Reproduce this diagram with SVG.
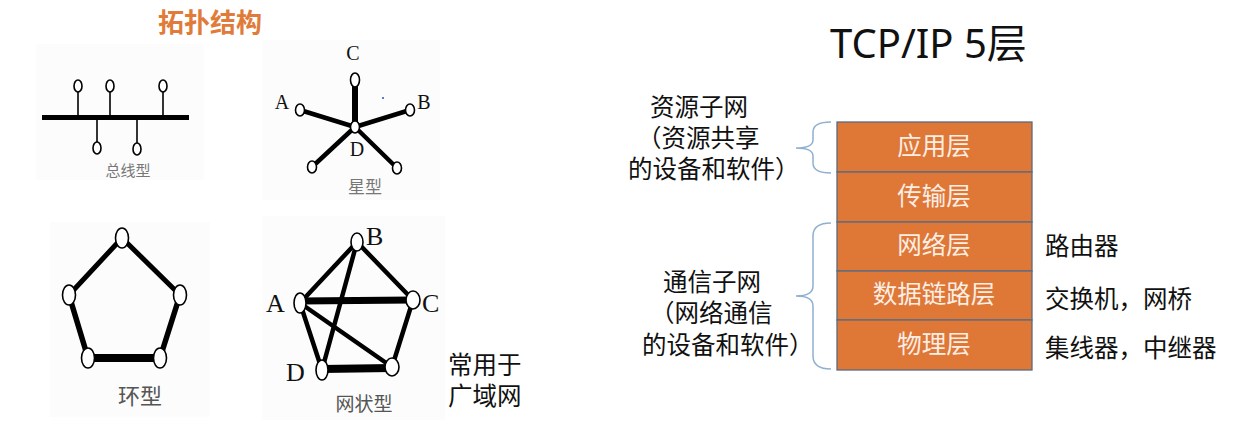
<svg xmlns="http://www.w3.org/2000/svg" width="1233" height="427" viewBox="0 0 1233 427">
<style>
.cn{font-family:"Liberation Sans","Noto Sans CJK SC",sans-serif;}
.t{font-size:24.5px;fill:#111;}
.lt{font-size:24.5px;fill:#fbeee4;text-anchor:middle;}
.lbl{font-family:"Liberation Serif","Noto Sans CJK SC",serif;font-size:20px;fill:#111;}
.cap{font-size:15px;fill:#777;text-anchor:middle;}
.node{fill:#fff;stroke:#000;stroke-width:1.6;}
.e{stroke:#000;stroke-linecap:round;fill:none;}
.layer{fill:#DF7737;stroke:#5b6b82;stroke-width:1.3;}
.brace{fill:none;stroke:#8fb0d2;stroke-width:1.5;}
.bg{fill:#fcfcfc;}
</style>
<rect width="1233" height="427" fill="#fff"/>

<text class="cn" x="158" y="32" style="font-size:26px;font-weight:bold;fill:#E07B39">拓扑结构</text>

<!-- Bus topology -->
<g id="bus">
<rect class="bg" x="36" y="44" width="168" height="136"/>
<rect x="42" y="115" width="147" height="5" fill="#000"/>
<g class="e" stroke-width="1.6">
<line x1="78" y1="92" x2="78" y2="115"/><line x1="110" y1="92" x2="110" y2="115"/><line x1="163" y1="92" x2="163" y2="115"/>
<line x1="97" y1="120" x2="97" y2="142"/><line x1="137" y1="120" x2="137" y2="143"/>
</g>
<ellipse class="node" cx="78" cy="86" rx="4" ry="6"/>
<ellipse class="node" cx="110" cy="86" rx="4" ry="6"/>
<ellipse class="node" cx="163" cy="86" rx="4" ry="6"/>
<ellipse class="node" cx="97" cy="148" rx="4" ry="6"/>
<ellipse class="node" cx="137" cy="149" rx="4" ry="6"/>
<text class="cn cap" x="128" y="176">总线型</text>
</g>

<!-- Star topology -->
<g id="star">
<rect class="bg" x="262" y="40" width="178" height="160"/>
<g class="e">
<line x1="355" y1="80" x2="355" y2="127" stroke-width="6"/>
<line x1="300" y1="110" x2="355" y2="127" stroke-width="4.5"/>
<line x1="410" y1="110" x2="355" y2="127" stroke-width="4.5"/>
<line x1="312" y1="167" x2="355" y2="127" stroke-width="4.5"/>
<line x1="397" y1="168" x2="355" y2="127" stroke-width="4.5"/>
</g>
<ellipse class="node" cx="355" cy="80" rx="4.5" ry="7"/>
<ellipse class="node" cx="355" cy="127" rx="4.5" ry="6"/>
<ellipse class="node" cx="300" cy="110" rx="4.5" ry="6"/>
<ellipse class="node" cx="410" cy="110" rx="4.5" ry="6"/>
<ellipse class="node" cx="312" cy="167" rx="4.5" ry="6"/>
<ellipse class="node" cx="397" cy="168" rx="4.5" ry="6"/>
<text class="lbl" x="353" y="60" text-anchor="middle">C</text>
<text class="lbl" x="282" y="109" text-anchor="middle">A</text>
<text class="lbl" x="424" y="109" text-anchor="middle">B</text>
<text class="lbl" x="357" y="156" text-anchor="middle">D</text>
<circle cx="383" cy="98" r="1" fill="#2a4bd0"/>
<text class="cn" x="365" y="193" style="font-size:17px;fill:#777;text-anchor:middle">星型</text>
</g>

<!-- Ring topology -->
<g id="ring">
<rect class="bg" x="50" y="222" width="160" height="195"/>
<g class="e">
<line x1="122" y1="238" x2="69" y2="295" stroke-width="5"/>
<line x1="122" y1="238" x2="180" y2="295" stroke-width="5"/>
<line x1="69" y1="295" x2="88" y2="358" stroke-width="5.5"/>
<line x1="180" y1="295" x2="160" y2="358" stroke-width="5.5"/>
<line x1="88" y1="358" x2="160" y2="358" stroke-width="8" stroke-linecap="butt"/>
</g>
<ellipse class="node" cx="122" cy="238" rx="6.5" ry="10"/>
<ellipse class="node" cx="69" cy="295" rx="6.5" ry="10"/>
<ellipse class="node" cx="180" cy="295" rx="6.5" ry="10"/>
<ellipse class="node" cx="88" cy="358" rx="6.5" ry="10"/>
<ellipse class="node" cx="160" cy="358" rx="6.5" ry="10"/>
<text class="cn" x="140" y="404" style="font-size:22px;fill:#555;text-anchor:middle">环型</text>
</g>

<!-- Mesh topology -->
<g id="mesh">
<rect class="bg" x="262" y="216" width="183" height="204"/>
<g class="e">
<line x1="357" y1="242" x2="300" y2="303" stroke-width="4.5"/>
<line x1="357" y1="242" x2="413" y2="300" stroke-width="4.5"/>
<line x1="300" y1="301" x2="413" y2="300" stroke-width="7"/>
<line x1="300" y1="303" x2="322" y2="370" stroke-width="4.5"/>
<line x1="300" y1="303" x2="392" y2="367" stroke-width="4.5"/>
<line x1="357" y1="242" x2="322" y2="370" stroke-width="4.5"/>
<line x1="413" y1="300" x2="392" y2="367" stroke-width="4.5"/>
<line x1="322" y1="369" x2="392" y2="368" stroke-width="8" stroke-linecap="butt"/>
</g>
<ellipse class="node" cx="357" cy="242" rx="6" ry="9"/>
<ellipse class="node" cx="300" cy="303" rx="6" ry="10"/>
<ellipse class="node" cx="413" cy="300" rx="7" ry="9"/>
<ellipse class="node" cx="322" cy="370" rx="6" ry="10"/>
<ellipse class="node" cx="392" cy="367" rx="7" ry="9"/>
<text class="lbl" x="366" y="245" style="font-size:26px">B</text>
<text class="lbl" x="266" y="312" style="font-size:26px">A</text>
<text class="lbl" x="422" y="312" style="font-size:26px">C</text>
<text class="lbl" x="286" y="381" style="font-size:26px">D</text>
<text class="cn" x="364" y="411" style="font-size:19px;fill:#555;text-anchor:middle">网状型</text>
</g>
<g id="mesh-note">
<text class="cn t" x="448" y="374">常用于</text>
<text class="cn t" x="448" y="405">广域网</text>
</g>

<!-- TCP/IP stack -->
<text x="830" y="58" style="font-family:'Noto Sans','Noto Sans CJK SC',sans-serif;font-size:40px;fill:#111">TCP/IP 5层</text>

<g id="layer-app"><rect class="layer" x="837" y="122" width="195" height="50"/><text class="cn lt" x="934" y="155">应用层</text></g>
<g id="layer-transport"><rect class="layer" x="837" y="172" width="195" height="50"/><text class="cn lt" x="934" y="205">传输层</text></g>
<g id="layer-network"><rect class="layer" x="837" y="222" width="195" height="49"/><text class="cn lt" x="934" y="254">网络层</text></g>
<g id="layer-link"><rect class="layer" x="837" y="271" width="195" height="49"/><text class="cn lt" x="934" y="303">数据链路层</text></g>
<g id="layer-physical"><rect class="layer" x="837" y="320" width="195" height="50"/><text class="cn lt" x="934" y="353">物理层</text></g>

<g id="connectors">
<path class="brace" d="M831,122 Q813,122 813,132 L813,140 Q813,148 796,148 Q813,148 813,156 L813,163 Q813,173 831,173"/>
<path class="brace" d="M831,223 Q813,223 813,236 L813,286 Q813,296 796,296 Q813,296 813,306 L813,356 Q813,369 831,369"/>
</g>

<g id="resource-subnet">
<text class="cn t" x="650" y="116">资源子网</text>
<text class="cn t" x="637" y="147">（资源共享</text>
<text class="cn t" x="628" y="178">的设备和软件）</text>
</g>
<g id="comm-subnet">
<text class="cn t" x="663" y="291">通信子网</text>
<text class="cn t" x="650" y="322">（网络通信</text>
<text class="cn t" x="642" y="354">的设备和软件）</text>
</g>

<g id="devices">
<text class="cn t" x="1045" y="255">路由器</text>
<text class="cn t" x="1045" y="308">交换机，网桥</text>
<text class="cn t" x="1045" y="357">集线器，中继器</text>
</g>
</svg>
